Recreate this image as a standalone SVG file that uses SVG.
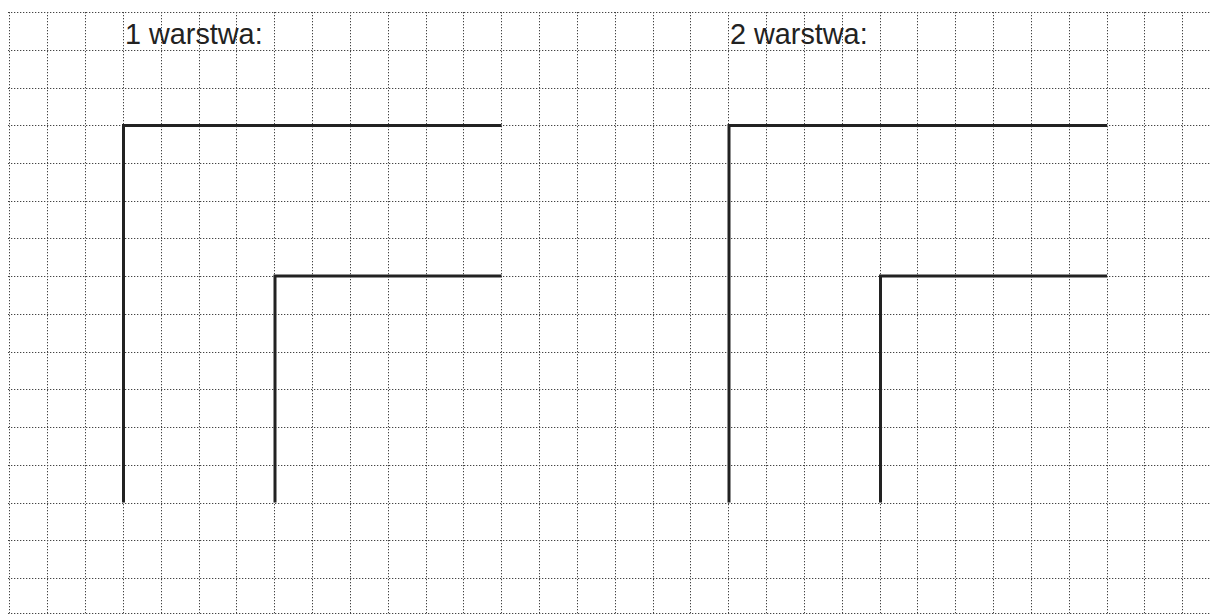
<svg xmlns="http://www.w3.org/2000/svg" width="1211" height="615" viewBox="0 0 1211 615">
<style>
.grid{fill:none;stroke:#444;stroke-width:1;stroke-dasharray:1.3 1.7}
.wall{fill:none;stroke:#222;stroke-width:3;stroke-linejoin:miter;stroke-linecap:butt}
.lbl{font-family:"Liberation Sans",Arial,sans-serif;font-size:28.8px;fill:#222}
</style>
<rect width="1211" height="615" fill="#fff"/>
<g id="grid">
<path class="grid" d="M9.5 12V615M47.5 12V615M85.5 12V615M123.5 12V615M161.5 12V615M199.5 12V615M236.5 12V615M274.5 12V615M312.5 12V615M350.5 12V615M388.5 12V615M426.5 12V615M463.5 12V615M501.5 12V615M539.5 12V615M577.5 12V615M615.5 12V615M653.5 12V615M690.5 12V615M728.5 12V615M766.5 12V615M804.5 12V615M842.5 12V615M880.5 12V615M917.5 12V615M955.5 12V615M993.5 12V615M1031.5 12V615M1069.5 12V615M1107.5 12V615M1144.5 12V615M1182.5 12V615"/>
<path class="grid" d="M8 12.5H1211M8 50.5H1211M8 88.5H1211M8 125.5H1211M8 163.5H1211M8 201.5H1211M8 238.5H1211M8 276.5H1211M8 314.5H1211M8 352.5H1211M8 389.5H1211M8 427.5H1211M8 465.5H1211M8 503.5H1211M8 540.5H1211M8 578.5H1211M8 613.5H1211"/>
</g>
<g id="label-1"><text class="lbl" x="125" y="43.5">1 warstwa:</text></g>
<g id="label-2"><text class="lbl" x="730" y="43.5">2 warstwa:</text></g>
<g id="layer-1">
<polyline class="wall" points="501.5,125.5 123.5,125.5 123.5,502.5"/>
<polyline class="wall" points="501.5,276 275,276 275,502.5"/>
</g>
<g id="layer-2">
<polyline class="wall" points="1107,125.5 729,125.5 729,502.5"/>
<polyline class="wall" points="1107,276 880.5,276 880.5,502.5"/>
</g>
</svg>
